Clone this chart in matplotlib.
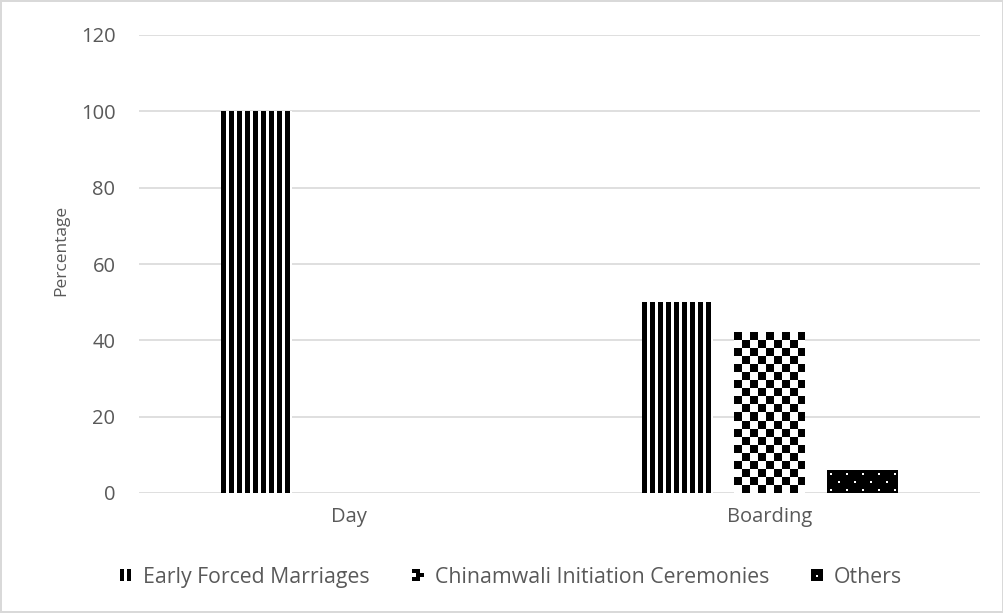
import matplotlib
matplotlib.use("Agg")
import matplotlib.pyplot as plt
import matplotlib.patches as patches
from matplotlib.legend_handler import HandlerBase
import numpy as np

# school type categories and percentage of each reason
categories = ["Day", "Boarding"]
series_names = ["Early Forced Marriages", "Chinamwali Initiation Ceremonies", "Others"]
early_forced = [100, 50]
chinamwali = [0, 42]
others = [0, 6]
y_ticks = [0, 20, 40, 60, 80, 100, 120]

plt.rcParams['font.family'] = ['Open Sans', 'DejaVu Sans']

text_col = '#595959'
grid_col = '#d9d9d9'

# pixel tiles for the bar fills (0 = black, 1 = white)
stripes = np.array([[0, 0, 0, 0, 0, 1, 1, 1]], dtype=float)
checker = np.kron(np.array([[0, 1], [1, 0]]), np.ones((8, 8)))
dots = np.zeros((16, 16))
dots[3:5, 3:5] = 1
dots[11:13, 11:13] = 1

fig = plt.figure(figsize=(10.04, 6.13), dpi=100)
fig.patch.set_edgecolor(grid_col)
fig.patch.set_linewidth(1.5)
ax = fig.add_axes([139 / 1004, 120 / 613, 841 / 1004, 458 / 613])

x = np.arange(len(categories))
width = 0.168
step = 0.22

bars1 = ax.bar(x - step, early_forced, width, color='none', linewidth=0, zorder=3)
bars2 = ax.bar(x, chinamwali, width, color='none', linewidth=0, zorder=3)
bars3 = ax.bar(x + step, others, width, color='none', linewidth=0, zorder=3)

ax.set_xlim(-0.5, 1.5)
ax.set_ylim(0, 120)


def texture_fill(ax, rect, tile):
    # repeat a pixel tile over the bar area, one array cell per screen pixel
    x0, y0 = rect.get_x(), rect.get_y()
    w, h = rect.get_width(), rect.get_height()
    if h <= 0:
        return
    p0 = ax.transData.transform((x0, y0))
    p1 = ax.transData.transform((x0 + w, y0 + h))
    nx = max(1, int(round(abs(p1[0] - p0[0]))))
    ny = max(1, int(round(abs(p1[1] - p0[1]))))
    th, tw = tile.shape
    arr = np.tile(tile, (ny // th + 2, nx // tw + 2))[:ny, :nx]
    ax.imshow(arr, cmap='gray', vmin=0, vmax=1, extent=(x0, x0 + w, y0, y0 + h),
              aspect='auto', interpolation='nearest', origin='upper', zorder=3)


for bars, tile in [(bars1, stripes), (bars2, checker), (bars3, dots)]:
    for b in bars:
        texture_fill(ax, b, tile)

ax.set_xlim(-0.5, 1.5)
ax.set_ylim(0, 120)
ax.set_yticks(y_ticks)
ax.set_xticks(x)
ax.set_xticklabels(categories)

ax.grid(axis='y', color=grid_col, linewidth=1.2, zorder=0)
ax.set_axisbelow(True)
for s in ax.spines.values():
    s.set_visible(False)
ax.tick_params(axis='both', length=0, colors=text_col, labelsize=14.5)
ax.tick_params(axis='y', pad=17)
ax.tick_params(axis='x', pad=10)
ax.set_ylabel("Percentage", color=text_col, fontsize=12.5, labelpad=8)
ax.yaxis.label.set_y(0.53)


class SwatchHandler(HandlerBase):
    # small legend swatch built from black/white rectangles
    def __init__(self, kind):
        super().__init__()
        self.kind = kind

    def create_artists(self, legend, orig_handle, xdescent, ydescent,
                       width, height, fontsize, trans):
        s = height
        x0 = -xdescent + (width - s) / 2
        y0 = -ydescent
        arts = []
        if self.kind == 'stripes':
            bw = s * 0.3
            for k in range(2):
                arts.append(patches.Rectangle((x0 + k * s * 0.55, y0), bw, s,
                                              facecolor='black', edgecolor='none',
                                              transform=trans))
        elif self.kind == 'checker':
            arts.append(patches.Rectangle((x0, y0), s, s, facecolor='white',
                                          edgecolor='none', transform=trans))
            third = s / 3
            for i, j in [(0, 2), (1, 2), (1, 1), (2, 1), (1, 0), (0, 0)]:
                arts.append(patches.Rectangle((x0 + i * third, y0 + j * third), third, third,
                                              facecolor='black', edgecolor='none',
                                              transform=trans))
        else:
            arts.append(patches.Rectangle((x0, y0), s, s, facecolor='black',
                                          edgecolor='none', transform=trans))
            d = s * 0.22
            arts.append(patches.Rectangle((x0 + (s - d) / 2, y0 + s * 0.3), d, d,
                                          facecolor='white', edgecolor='none',
                                          transform=trans))
        return arts


handles = [bars1[0], bars2[0], bars3[0]]
leg = fig.legend(handles, series_names, loc='center', bbox_to_anchor=(0.5095, 0.0587),
                 ncol=3, frameon=False, fontsize=15.3, handlelength=0.5,
                 handleheight=0.5, handletextpad=0.55, columnspacing=2.0,
                 handler_map={bars1[0]: SwatchHandler('stripes'),
                              bars2[0]: SwatchHandler('checker'),
                              bars3[0]: SwatchHandler('dots')})
for t in leg.get_texts():
    t.set_color(text_col)

fig.savefig("out.png", dpi=100)
plt.close(fig)
